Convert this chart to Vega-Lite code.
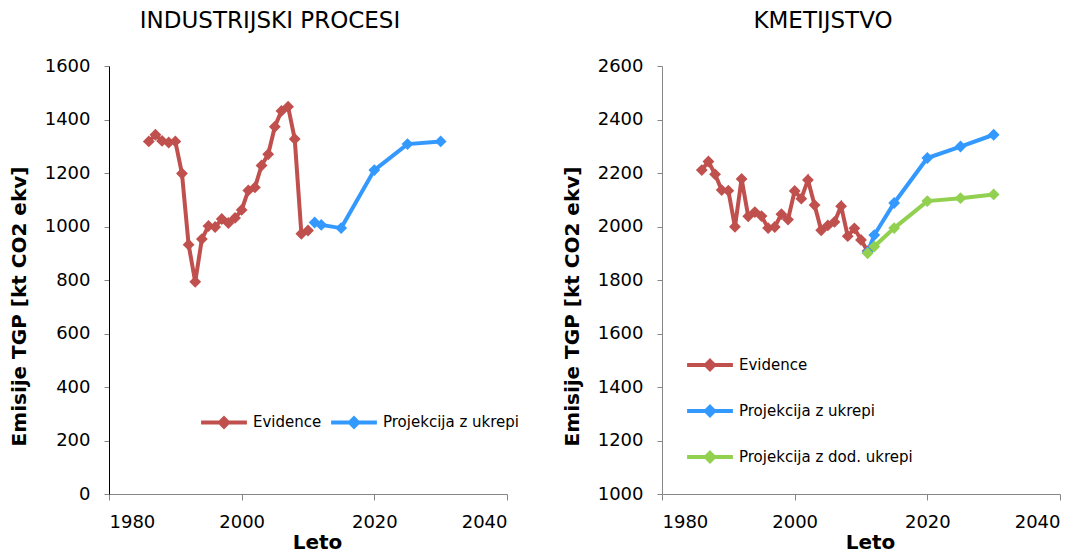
{
  "$schema": "https://vega.github.io/schema/vega-lite/v6.json",
  "background": "white",
  "padding": {"left": 9, "top": 10, "right": 5, "bottom": 2},
  "config": {
    "font": "DejaVu Sans",
    "view": {"stroke": null},
    "axis": {"grid": false, "domainColor": "#868686", "tickColor": "#868686", "labelColor": "#000000", "labelFontSize": 18, "labelFont": "DejaVu Sans", "titleFont": "DejaVu Sans", "titleFontWeight": "bold", "titleFontSize": 20, "titleColor": "#000000", "tickSize": 6, "domainWidth": 1},
    "title": {"font": "DejaVu Sans", "fontSize": 23, "fontWeight": "normal", "color": "#000000", "anchor": "middle", "offset": 24, "dx": -38},
    "legend": {"labelFontSize": 15, "labelFont": "DejaVu Sans", "labelColor": "#000000", "labelLimit": 400, "symbolType": "M-1,0L1,0M0,-0.18L0.18,0L0,0.18L-0.18,0Z", "symbolSize": 2100, "symbolStrokeWidth": 4, "labelOffset": 4}
  },
  "datasets": {
    "rows": [
      {"panel": "IP", "series": "Evidence", "year": 1986, "value": 1318},
      {"panel": "IP", "series": "Evidence", "year": 1987, "value": 1343},
      {"panel": "IP", "series": "Evidence", "year": 1988, "value": 1320},
      {"panel": "IP", "series": "Evidence", "year": 1989, "value": 1314},
      {"panel": "IP", "series": "Evidence", "year": 1990, "value": 1318},
      {"panel": "IP", "series": "Evidence", "year": 1991, "value": 1198},
      {"panel": "IP", "series": "Evidence", "year": 1992, "value": 932},
      {"panel": "IP", "series": "Evidence", "year": 1993, "value": 793},
      {"panel": "IP", "series": "Evidence", "year": 1994, "value": 953},
      {"panel": "IP", "series": "Evidence", "year": 1995, "value": 1002},
      {"panel": "IP", "series": "Evidence", "year": 1996, "value": 998},
      {"panel": "IP", "series": "Evidence", "year": 1997, "value": 1028},
      {"panel": "IP", "series": "Evidence", "year": 1998, "value": 1013},
      {"panel": "IP", "series": "Evidence", "year": 1999, "value": 1032},
      {"panel": "IP", "series": "Evidence", "year": 2000, "value": 1062},
      {"panel": "IP", "series": "Evidence", "year": 2001, "value": 1135},
      {"panel": "IP", "series": "Evidence", "year": 2002, "value": 1146},
      {"panel": "IP", "series": "Evidence", "year": 2003, "value": 1228},
      {"panel": "IP", "series": "Evidence", "year": 2004, "value": 1270},
      {"panel": "IP", "series": "Evidence", "year": 2005, "value": 1373},
      {"panel": "IP", "series": "Evidence", "year": 2006, "value": 1432},
      {"panel": "IP", "series": "Evidence", "year": 2007, "value": 1448},
      {"panel": "IP", "series": "Evidence", "year": 2008, "value": 1327},
      {"panel": "IP", "series": "Evidence", "year": 2009, "value": 973},
      {"panel": "IP", "series": "Evidence", "year": 2010, "value": 985},
      {"panel": "IP", "series": "Projekcija z ukrepi", "year": 2011, "value": 1015},
      {"panel": "IP", "series": "Projekcija z ukrepi", "year": 2012, "value": 1006},
      {"panel": "IP", "series": "Projekcija z ukrepi", "year": 2015, "value": 994},
      {"panel": "IP", "series": "Projekcija z ukrepi", "year": 2020, "value": 1211},
      {"panel": "IP", "series": "Projekcija z ukrepi", "year": 2025, "value": 1308},
      {"panel": "IP", "series": "Projekcija z ukrepi", "year": 2030, "value": 1318},
      {"panel": "KM", "series": "Evidence", "year": 1986, "value": 2211},
      {"panel": "KM", "series": "Evidence", "year": 1987, "value": 2243},
      {"panel": "KM", "series": "Evidence", "year": 1988, "value": 2195},
      {"panel": "KM", "series": "Evidence", "year": 1989, "value": 2136},
      {"panel": "KM", "series": "Evidence", "year": 1990, "value": 2134},
      {"panel": "KM", "series": "Evidence", "year": 1991, "value": 1999},
      {"panel": "KM", "series": "Evidence", "year": 1992, "value": 2178},
      {"panel": "KM", "series": "Evidence", "year": 1993, "value": 2038},
      {"panel": "KM", "series": "Evidence", "year": 1994, "value": 2054},
      {"panel": "KM", "series": "Evidence", "year": 1995, "value": 2039},
      {"panel": "KM", "series": "Evidence", "year": 1996, "value": 1994},
      {"panel": "KM", "series": "Evidence", "year": 1997, "value": 1998},
      {"panel": "KM", "series": "Evidence", "year": 1998, "value": 2046},
      {"panel": "KM", "series": "Evidence", "year": 1999, "value": 2026},
      {"panel": "KM", "series": "Evidence", "year": 2000, "value": 2133},
      {"panel": "KM", "series": "Evidence", "year": 2001, "value": 2104},
      {"panel": "KM", "series": "Evidence", "year": 2002, "value": 2174},
      {"panel": "KM", "series": "Evidence", "year": 2003, "value": 2080},
      {"panel": "KM", "series": "Evidence", "year": 2004, "value": 1986},
      {"panel": "KM", "series": "Evidence", "year": 2005, "value": 2004},
      {"panel": "KM", "series": "Evidence", "year": 2006, "value": 2017},
      {"panel": "KM", "series": "Evidence", "year": 2007, "value": 2076},
      {"panel": "KM", "series": "Evidence", "year": 2008, "value": 1964},
      {"panel": "KM", "series": "Evidence", "year": 2009, "value": 1993},
      {"panel": "KM", "series": "Evidence", "year": 2010, "value": 1950},
      {"panel": "KM", "series": "Evidence", "year": 2011, "value": 1908},
      {"panel": "KM", "series": "Projekcija z ukrepi", "year": 2011, "value": 1905},
      {"panel": "KM", "series": "Projekcija z ukrepi", "year": 2012, "value": 1968},
      {"panel": "KM", "series": "Projekcija z ukrepi", "year": 2015, "value": 2088},
      {"panel": "KM", "series": "Projekcija z ukrepi", "year": 2020, "value": 2256},
      {"panel": "KM", "series": "Projekcija z ukrepi", "year": 2025, "value": 2299},
      {"panel": "KM", "series": "Projekcija z ukrepi", "year": 2030, "value": 2343},
      {"panel": "KM", "series": "Projekcija z dod. ukrepi", "year": 2011, "value": 1900},
      {"panel": "KM", "series": "Projekcija z dod. ukrepi", "year": 2012, "value": 1925},
      {"panel": "KM", "series": "Projekcija z dod. ukrepi", "year": 2015, "value": 1994},
      {"panel": "KM", "series": "Projekcija z dod. ukrepi", "year": 2020, "value": 2095},
      {"panel": "KM", "series": "Projekcija z dod. ukrepi", "year": 2025, "value": 2106},
      {"panel": "KM", "series": "Projekcija z dod. ukrepi", "year": 2030, "value": 2120}
    ]
  },
  "hconcat": [
    {
      "title": "INDUSTRIJSKI PROCESI",
      "width": 398,
      "height": 428,
      "data": {"name": "rows"},
      "transform": [{"filter": "datum.panel === 'IP'"}],
      "encoding": {
        "x": {"field": "year", "type": "quantitative", "scale": {"domain": [1980, 2040], "nice": false, "zero": false}, "axis": {"values": [1980, 2000, 2020, 2040], "title": "Leto", "titleX": 208, "titleY": 38, "labelPadding": 13, "format": "d"}},
        "y": {"field": "value", "type": "quantitative", "scale": {"domain": [0, 1600], "nice": false}, "axis": {"values": [0, 200, 400, 600, 800, 1000, 1200, 1400, 1600], "format": "d", "title": "Emisije TGP [kt CO2 ekv]", "tickSize": 5, "labelPadding": 14, "domainColor": "#000000", "titleY": 240, "titlePadding": 15}},
        "color": {"field": "series", "type": "nominal", "scale": {"domain": ["Evidence", "Projekcija z ukrepi"], "range": ["#C0504D", "#3399FF"]}, "legend": {"title": null, "orient": "none", "direction": "horizontal", "legendX": 90, "legendY": 331, "columnPadding": 1}}
      },
      "layer": [
        {"mark": {"type": "line", "strokeWidth": 4}},
        {"mark": {"type": "point", "shape": "diamond", "filled": true, "size": 140, "opacity": 1}}
      ]
    },
    {
      "title": "KMETIJSTVO",
      "width": 398,
      "height": 428,
      "data": {"name": "rows"},
      "transform": [{"filter": "datum.panel === 'KM'"}],
      "encoding": {
        "x": {"field": "year", "type": "quantitative", "scale": {"domain": [1980, 2040], "nice": false, "zero": false}, "axis": {"values": [1980, 2000, 2020, 2040], "title": "Leto", "titleX": 208, "titleY": 38, "labelPadding": 13, "format": "d"}},
        "y": {"field": "value", "type": "quantitative", "scale": {"domain": [1000, 2600], "nice": false, "zero": false}, "axis": {"values": [1000, 1200, 1400, 1600, 1800, 2000, 2200, 2400, 2600], "format": "d", "title": "Emisije TGP [kt CO2 ekv]", "tickSize": 5, "labelPadding": 14, "titleY": 240, "titlePadding": 15}},
        "color": {"field": "series", "type": "nominal", "scale": {"domain": ["Evidence", "Projekcija z ukrepi", "Projekcija z dod. ukrepi"], "range": ["#C0504D", "#3399FF", "#92D050"]}, "legend": {"title": null, "orient": "none", "direction": "vertical", "legendX": 23, "legendY": 274, "rowPadding": 8}}
      },
      "layer": [
        {"mark": {"type": "line", "strokeWidth": 4}},
        {"mark": {"type": "point", "shape": "diamond", "filled": true, "size": 140, "opacity": 1}}
      ]
    }
  ],
  "spacing": 42,
  "resolve": {"scale": {"color": "independent", "y": "independent"}, "legend": {"color": "independent"}}
}
